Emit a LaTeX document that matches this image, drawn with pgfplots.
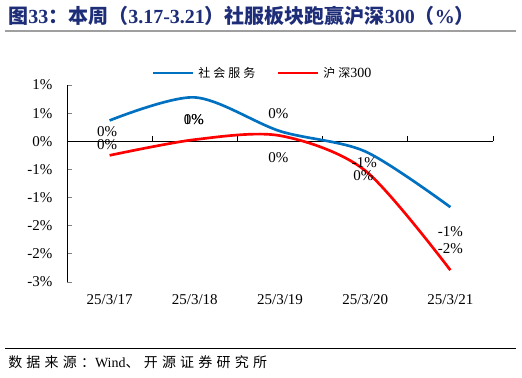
\documentclass[border=0pt]{standalone}
\usepackage{pgfplots}
\pgfplotsset{compat=1.18}
\usepackage{fontspec}
\setmainfont{Liberation Serif}
\newfontfamily\cjk{Noto Sans CJK SC}
\newfontfamily\cjkw{Noto Sans CJK SC}[LetterSpace=25]
\newfontfamily\cjkf{Noto Sans CJK SC}[LetterSpace=30]
\definecolor{titleblue}{RGB}{30,45,120}
\definecolor{sblue}{RGB}{0,112,192}
\definecolor{sred}{RGB}{255,0,0}
\begin{document}
\begin{tikzpicture}[x=0.75pt,y=0.75pt]
\useasboundingbox (0,0) rectangle (522,-378);
\node[anchor=west,text=titleblue,font=\fontsize{15}{16}\selectfont\bfseries,inner sep=0] at (8,-16)
 {{\cjk 图}33{\cjk ：本周（}3.17-3.21{\cjk ）社服板块跑赢沪深}300{\cjk （}\%{\cjk ）}};
\draw[gray!75, line width=0.9pt] (5,-31) -- (516,-31);
\draw[black, line width=0.6pt] (5,-348) -- (516,-348);
\node[anchor=west,inner sep=0,font=\fontsize{10.5}{11}\selectfont] at (8,-362) {{\cjkf 数据来源：}Wind{\cjkf 、开源证券研究所}};
% legend
\draw[sblue,line width=2pt] (153,-73) -- (193,-73);
\node[anchor=west,inner sep=0,font=\fontsize{9}{10}\selectfont\cjkw] at (198,-73) {社会服务};
\draw[sred,line width=2pt] (278,-73) -- (318,-73);
\node[anchor=west,inner sep=0,font=\fontsize{10.5}{11}\selectfont] at (323,-73) {{\fontsize{9}{10}\selectfont\cjkw 沪深}300};
\begin{axis}[
  at={(50.25pt,-211.5pt)}, anchor=south west,
  scale only axis, width=319.5pt, height=147.75pt,
  xmin=-0.5, xmax=4.5, ymin=-2.5, ymax=1,
  axis y line*=left, axis x line*=bottom,
  x axis line style={draw=none},
  y axis line style={-, line width=0.6pt},
  xtick={0,1,2,3,4},
  xticklabels={25/3/17,25/3/18,25/3/19,25/3/20,25/3/21},
  xtick style={draw=none},
  ytick={-2.5,-2,-1.5,-1,-0.5,0,0.5,1},
  yticklabels={-3\%,-2\%,-2\%,-1\%,-1\%,0\%,1\%,1\%},
  tick align=inside, major tick length=3.75pt,
  ytick style={line width=0.6pt},
  ticklabel style={font=\fontsize{11.25}{12}\selectfont},
  yticklabel style={xshift=-7.5pt},
  xticklabel style={yshift=-6pt},
  clip=false,
]
\draw[black,line width=0.6pt] (axis cs:-0.5,0) -- (axis cs:4.5,0);
\draw[black,line width=0.6pt] (axis cs:0.5,0) -- (axis cs:0.5,0.09);
\draw[black,line width=0.6pt] (axis cs:1.5,0) -- (axis cs:1.5,0.09);
\draw[black,line width=0.6pt] (axis cs:2.5,0) -- (axis cs:2.5,0.09);
\draw[black,line width=0.6pt] (axis cs:3.5,0) -- (axis cs:3.5,0.09);
\draw[black,line width=0.6pt] (axis cs:4.5,0) -- (axis cs:4.5,0.09);
\addplot[sblue, line width=2pt, smooth, tension=0.5, no markers] coordinates {
 (0,0.37) (1,0.78) (2,0.18) (3,-0.18) (4,-1.17)};
\addplot[sred, line width=2pt, smooth, tension=0.5, no markers] coordinates {
 (0,-0.25) (1,0.03) (2,0.10) (3,-0.52) (4,-2.29)};
\begin{scope}[every node/.style={font=\fontsize{11.25}{12}\selectfont, inner sep=0}]
\node at (axis cs:-0.03,0.17) {0\%};
\node at (axis cs:-0.03,-0.06) {0\%};
\node at (axis cs:0.99,0.385) {0\%};
\node at (axis cs:0.99,0.385) {1\%};
\node at (axis cs:1.98,0.497) {0\%};
\node at (axis cs:1.98,-0.284) {0\%};
\node at (axis cs:2.99,-0.38) {-1\%};
\node at (axis cs:2.98,-0.61) {0\%};
\node at (axis cs:4.0,-1.61) {-1\%};
\node at (axis cs:4.0,-1.90) {-2\%};
\end{scope}
\end{axis}
\end{tikzpicture}
\end{document}
